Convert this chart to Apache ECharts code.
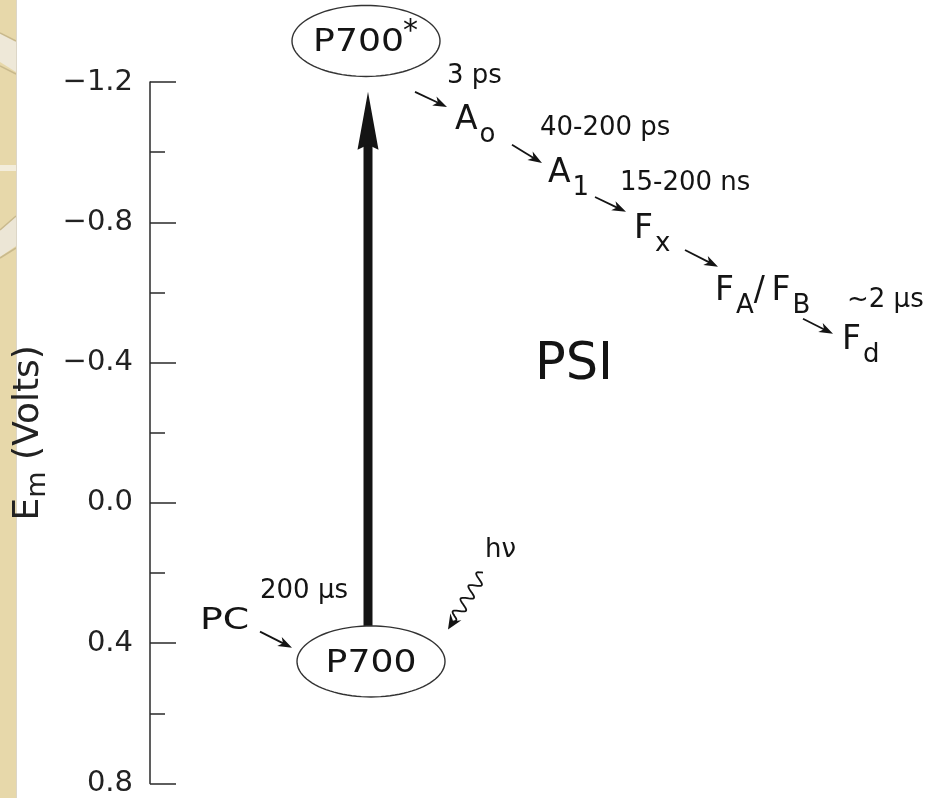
<!DOCTYPE html>
<html><head><meta charset="utf-8">
<script src="https://cdn.jsdelivr.net/npm/echarts@6/dist/echarts.min.js"></script>
<style>html,body{margin:0;padding:0;background:#fff}#c{width:925px;height:798px}</style>
</head><body><div id="c"></div>
<script>
// ---- Y axis: midpoint potential Em (volts) ----
const yMin = -1.2, yMax = 0.8, yStep = 0.4;

// ---- Pigments drawn inside ellipses (name, x position, Em) ----
const pigmentNames = ['P700*', 'P700'];
const pigmentX = [216, 221];
const pigmentEm = [-1.317, 0.452];

// ---- Electron carriers ("_" marks a one-character subscript; Em = baseline) ----
const carrierNames = ['A_o', 'A_1', 'F_x', 'F_A/\u2009F_B', 'F_d'];
const carrierX = [305, 398, 484, 565, 692];
const carrierEm = [-1.058, -0.907, -0.747, -0.570, -0.431];

// ---- Transfer times ----
const rateLabels = ['3 ps', '40-200 ps', '15-200 ns', '~2 \u00b5s', '200 \u00b5s'];
const rateX = [297, 390, 470, 697, 110];
const rateEm = [-1.217, -1.069, -0.912, -0.579, 0.253];

// ---- Electron transfer arrows: start [x, Em] and end [x, Em] ----
const transferFrom = [[265, -1.172], [362, -1.021], [445, -0.872], [535, -0.721], [653, -0.525], [110, 0.367]];
const transferTo   = [[297, -1.129], [392, -0.969], [476, -0.830], [568, -0.673], [683, -0.482], [142, 0.413]];

// ---- Excitation arrow P700 -> P700* ----
const excitationX = 218, excitationFrom = 0.353, excitationTo = -1.172;

// ---- Light ----
const lightLabel = 'h\u03bd', lightLabelX = 335, lightLabelEm = 0.136;
const lightFrom = [333, 0.199], lightTo = [298, 0.361];

// ---- Other labels ----
const otherLabels = ['PC', 'PSI'];
const otherX = [50, 424];
const otherEm = [0.336, -0.391];

// ================= rendering =================
const FONT = 'DejaVu Sans';
const INK = '#141414';
const mctx = document.createElement('canvas').getContext('2d');
function tw(s, size) { mctx.font = size + 'px "' + FONT + '"'; return mctx.measureText(s).width; }
function txt(x, y, s, size, align, sx) {
  return { type: 'text', x: x, y: y, scaleX: sx || 1,
    style: { text: s, fontSize: size, fontFamily: FONT, fill: INK,
      align: align || 'left', verticalAlign: 'middle',
      textAlign: align || 'left', textVerticalAlign: 'middle' } };
}
function parseSegs(s) {
  const out = [];
  for (let i = 0; i < s.length; i++) {
    if (s[i] === '_' && i + 1 < s.length) { out.push({ t: s[i + 1], sub: true }); i++; }
    else out.push({ t: s[i], sub: false });
  }
  return out;
}
function arrowHead(tip, d, len, half, notch) {
  const n = [-d[1], d[0]];
  const b = [tip[0] - d[0] * len, tip[1] - d[1] * len];
  const m = [tip[0] - d[0] * len * notch, tip[1] - d[1] * len * notch];
  return [tip, [b[0] + n[0] * half, b[1] + n[1] * half], m, [b[0] - n[0] * half, b[1] - n[1] * half]];
}

const chart = echarts.init(document.getElementById('c'), null, { renderer: 'canvas' });

const option = {
  backgroundColor: '#ffffff',
  animation: false,
  graphic: [
    { type: 'rect', shape: { x: 0, y: 0, width: 16, height: 798 }, style: { fill: '#e7d8aa' }, z: -10 },
    { type: 'polygon', shape: { points: [[0, 33], [16, 41], [16, 72], [0, 62]] }, style: { fill: '#eee8d8' }, z: -9 },
    { type: 'polyline', shape: { points: [[0, 33], [16, 41]] }, style: { stroke: '#c9b98c', lineWidth: 1.5 }, z: -8 },
    { type: 'polyline', shape: { points: [[0, 66], [16, 74]] }, style: { stroke: '#c9b98c', lineWidth: 1.5 }, z: -8 },
    { type: 'rect', shape: { x: 0, y: 165, width: 16, height: 6 }, style: { fill: '#f3eddb' }, z: -9 },
    { type: 'polygon', shape: { points: [[0, 230], [16, 216], [16, 246], [0, 257]] }, style: { fill: '#ece6d6' }, z: -9 },
    { type: 'polyline', shape: { points: [[0, 230], [16, 216]] }, style: { stroke: '#c9b98c', lineWidth: 1.5 }, z: -8 },
    { type: 'polyline', shape: { points: [[0, 258], [16, 248]] }, style: { stroke: '#c9b98c', lineWidth: 1.5 }, z: -8 },
    { type: 'rect', shape: { x: 16, y: 0, width: 1, height: 798 }, style: { fill: '#dcd6c8' }, z: -8 }
  ],
  grid: { left: 150, right: 0, top: 82, bottom: 14, containLabel: false },
  xAxis: { type: 'value', min: 0, max: 775, show: false },
  yAxis: {
    type: 'value', inverse: true, min: yMin, max: yMax, interval: yStep,
    name: '{e|E}{s|m}{v| (Volts)}',
    nameLocation: 'middle', nameRotate: 90, nameGap: 95,
    nameTextStyle: {
      fontFamily: FONT, color: '#222',
      rich: {
        e: { fontFamily: FONT, fontSize: 36, color: '#222', lineHeight: 46 },
        s: { fontFamily: FONT, fontSize: 27, color: '#222', lineHeight: 46, verticalAlign: 'bottom' },
        v: { fontFamily: FONT, fontSize: 36, color: '#222', lineHeight: 46 }
      }
    },
    axisLine: { show: true, lineStyle: { color: '#2a2a2a', width: 1.5 } },
    axisTick: { show: true, inside: true, length: 26, lineStyle: { color: '#2a2a2a', width: 1.5 } },
    minorTick: { show: true, splitNumber: 2, length: 15, lineStyle: { color: '#2a2a2a', width: 1.5 } },
    splitLine: { show: false },
    axisLabel: {
      margin: 17, fontFamily: FONT, fontSize: 29, color: '#222',
      formatter: v => (v < -1e-9 ? '\u2212' : '') + Math.abs(v).toFixed(1)
    }
  },
  series: [
    { // excitation arrow
      type: 'custom', clip: false, z: 2,
      data: [[excitationX, excitationFrom, excitationTo]],
      renderItem: (params, api) => {
        const p0 = api.coord([api.value(0), api.value(1)]);
        const p1 = api.coord([api.value(0), api.value(2)]);
        const cx = p0[0];
        const head = 58, hw = 10.5, sw = 9;
        return { type: 'group', children: [
          { type: 'rect', shape: { x: cx - sw / 2, y: p1[1] + head - 6, width: sw, height: p0[1] - (p1[1] + head - 6) }, style: { fill: INK } },
          { type: 'polygon', shape: { points: [[cx, p1[1]], [cx + hw, p1[1] + head], [cx, p1[1] + head - 5], [cx - hw, p1[1] + head]] }, style: { fill: INK } }
        ] };
      }
    },
    { // pigments in ellipses
      type: 'custom', clip: false, z: 3,
      data: pigmentX.map((x, i) => [x, pigmentEm[i]]),
      renderItem: (params, api) => {
        const i = params.dataIndex;
        const c = api.coord([api.value(0), api.value(1)]);
        const rx = 74, ry = 35.5, pts = [];
        for (let k = 0; k < 96; k++) { const a = k / 96 * Math.PI * 2; pts.push([c[0] + rx * Math.cos(a), c[1] + ry * Math.sin(a)]); }
        let name = pigmentNames[i], star = false;
        if (name.endsWith('*')) { star = true; name = name.slice(0, -1); }
        const size = 32, sx = 1.13;
        const w = tw(name, size) * sx;
        const sw = star ? tw('*', 30) : 0;
        const left = c[0] - (w + sw) / 2;
        const children = [
          { type: 'polygon', shape: { points: pts }, style: { fill: '#fff', stroke: '#333', lineWidth: 1.4 } },
          txt(left, c[1] + 2, name, size, 'left', sx)
        ];
        if (star) children.push(txt(left + w - 1, c[1] - 9, '*', 30, 'left'));
        return { type: 'group', children: children };
      }
    },
    { // electron carriers
      type: 'custom', clip: false, z: 3,
      data: carrierX.map((x, i) => [x, carrierEm[i]]),
      renderItem: (params, api) => {
        const i = params.dataIndex;
        const p = api.coord([api.value(0), api.value(1)]);
        const segs = parseSegs(carrierNames[i]);
        let x = p[0];
        const children = [];
        segs.forEach(s => {
          const size = s.sub ? 26 : 33;
          const base = p[1] + (s.sub ? 12.5 : 0);
          if (s.sub) x += 2;
          children.push(txt(x, base - 0.35 * size, s.t, size, 'left'));
          x += tw(s.t, size);
        });
        return { type: 'group', children: children };
      }
    },
    { // transfer times
      type: 'custom', clip: false, z: 3,
      data: rateX.map((x, i) => [x, rateEm[i]]),
      renderItem: (params, api) => {
        const p = api.coord([api.value(0), api.value(1)]);
        return txt(p[0], p[1], rateLabels[params.dataIndex], 26, 'left');
      }
    },
    { // transfer arrows
      type: 'custom', clip: false, z: 3,
      data: transferFrom.map((f, i) => [f[0], f[1], transferTo[i][0], transferTo[i][1]]),
      renderItem: (params, api) => {
        const a = api.coord([api.value(0), api.value(1)]);
        const b = api.coord([api.value(2), api.value(3)]);
        const L = Math.hypot(b[0] - a[0], b[1] - a[1]);
        const d = [(b[0] - a[0]) / L, (b[1] - a[1]) / L];
        const hl = 14;
        return { type: 'group', children: [
          { type: 'line', shape: { x1: a[0], y1: a[1], x2: b[0] - d[0] * hl * 0.7, y2: b[1] - d[1] * hl * 0.7 }, style: { stroke: INK, lineWidth: 1.8 } },
          { type: 'polygon', shape: { points: arrowHead(b, d, hl, 5, 0.72) }, style: { fill: INK } }
        ] };
      }
    },
    { // light: wavy arrow and label
      type: 'custom', clip: false, z: 3,
      data: [[lightFrom[0], lightFrom[1], lightTo[0], lightTo[1], lightLabelX, lightLabelEm]],
      renderItem: (params, api) => {
        const a = api.coord([api.value(0), api.value(1)]);
        const b = api.coord([api.value(2), api.value(3)]);
        const lp = api.coord([api.value(4), api.value(5)]);
        const L = Math.hypot(b[0] - a[0], b[1] - a[1]);
        const d = [(b[0] - a[0]) / L, (b[1] - a[1]) / L];
        const n = [-d[1], d[0]];
        const hl = 15, wl = L - hl * 0.6, lam = 15, amp = 5.5;
        const pts = [];
        for (let s = 0; s <= wl; s += 0.7) {
          const fade = Math.min(1, (wl - s) / 6);
          const o = amp * Math.sin(2 * Math.PI * s / lam) * fade;
          pts.push([a[0] + d[0] * s + n[0] * o, a[1] + d[1] * s + n[1] * o]);
        }
        return { type: 'group', children: [
          { type: 'polyline', shape: { points: pts }, style: { stroke: INK, lineWidth: 1.8, fill: null } },
          { type: 'polygon', shape: { points: arrowHead(b, d, hl, 6.5, 0.65) }, style: { fill: INK } },
          txt(lp[0], lp[1], lightLabel, 26, 'left')
        ] };
      }
    },
    { // other labels
      type: 'custom', clip: false, z: 3,
      data: otherX.map((x, i) => [x, otherEm[i]]),
      renderItem: (params, api) => {
        const i = params.dataIndex;
        const p = api.coord([api.value(0), api.value(1)]);
        if (otherLabels[i] === 'PSI') return txt(p[0], p[1], otherLabels[i], 51, 'center');
        return txt(p[0], p[1], otherLabels[i], 31, 'left', 1.22);
      }
    }
  ]
};
chart.setOption(option);
</script>
</body></html>
